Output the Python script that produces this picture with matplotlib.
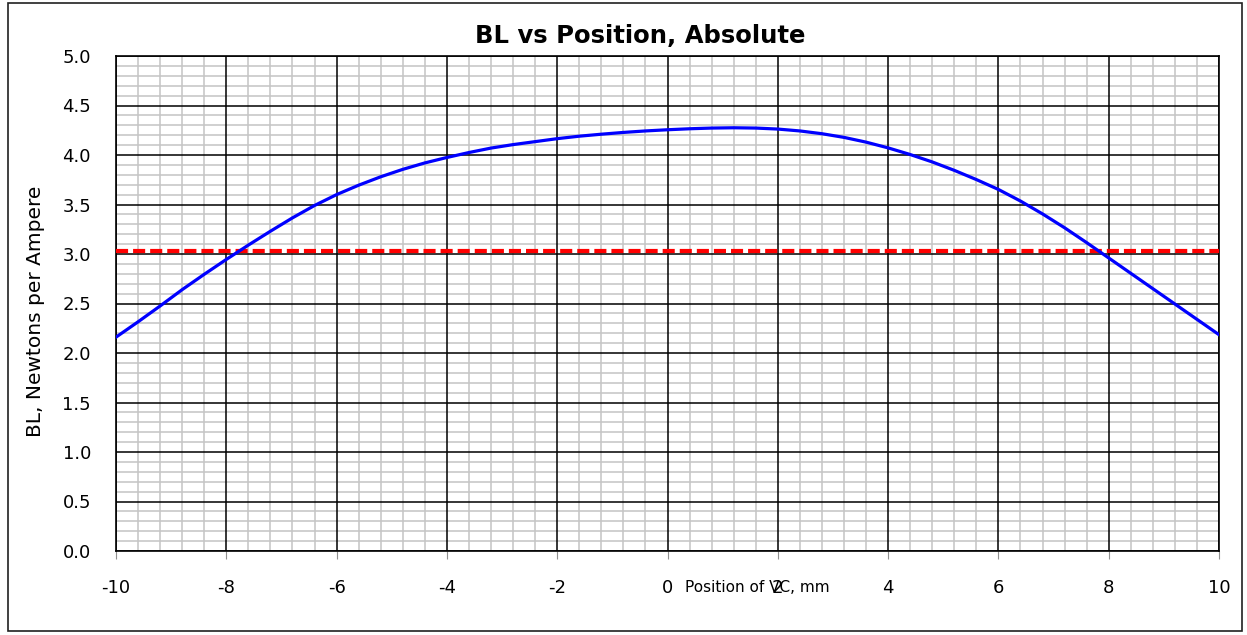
import matplotlib
matplotlib.use("Agg")
import matplotlib.pyplot as plt
from matplotlib.patches import Rectangle
from matplotlib.ticker import MultipleLocator, FormatStrFormatter

plt.rcParams['font.family'] = ['DejaVu Sans']
plt.rcParams['axes.unicode_minus'] = False

# Data
position_mm = [-10.0, -9.6, -9.2, -8.8, -8.4, -8.0, -7.6, -7.2, -6.8, -6.4,
               -6.0, -5.6, -5.2, -4.8, -4.4, -4.0, -3.6, -3.2, -2.8, -2.4,
               -2.0, -1.6, -1.2, -0.8, -0.4, 0.0, 0.4, 0.8, 1.2, 1.6,
               2.0, 2.4, 2.8, 3.2, 3.6, 4.0, 4.4, 4.8, 5.2, 5.6,
               6.0, 6.4, 6.8, 7.2, 7.6, 8.0, 8.4, 8.8, 9.2, 9.6, 10.0]
bl_values = [2.160, 2.315, 2.475, 2.640, 2.795, 2.945, 3.090, 3.230, 3.365, 3.490,
             3.600, 3.695, 3.780, 3.855, 3.920, 3.975, 4.025, 4.070, 4.105, 4.135,
             4.165, 4.190, 4.210, 4.228, 4.243, 4.255, 4.265, 4.272, 4.275, 4.272,
             4.262, 4.243, 4.215, 4.178, 4.130, 4.072, 4.005, 3.930, 3.845, 3.752,
             3.652, 3.535, 3.405, 3.265, 3.115, 2.960, 2.805, 2.650, 2.495, 2.340, 2.185]
threshold_x = [-10, 10]
threshold_y = [3.03, 3.03]
x_ticks = [-10, -8, -6, -4, -2, 0, 2, 4, 6, 8, 10]

W, H = 1247, 635
fig = plt.figure(figsize=(W / 100, H / 100), dpi=100)
fig.patch.set_facecolor('white')

# outer chart border
fig.add_artist(Rectangle((7.5 / W, 1 - 631 / H), (1242 - 7.5) / W, (631 - 3) / H,
                         transform=fig.transFigure, fill=False,
                         edgecolor='#202020', linewidth=1.2))

L, R, T, B = 116, 1219, 56, 551
ax = fig.add_axes([L / W, 1 - B / H, (R - L) / W, (B - T) / H])

ax.set_xlim(-10, 10)
ax.set_ylim(0, 5)
ax.set_xticks(x_ticks)
ax.xaxis.set_minor_locator(MultipleLocator(0.4))
ax.yaxis.set_major_locator(MultipleLocator(0.5))
ax.yaxis.set_minor_locator(MultipleLocator(0.1))
ax.yaxis.set_major_formatter(FormatStrFormatter('%.1f'))

# minor grid from the axis; major grid drawn above it
ax.grid(which='minor', color='#c4c4c4', linewidth=1.1)
ax.set_axisbelow(True)
for xv in ax.get_xticks():
    ax.axvline(xv, color='black', linewidth=1.1, zorder=1)
for yv in ax.get_yticks():
    ax.axhline(yv, color='black', linewidth=1.1, zorder=1)
ax.set_xlim(-10, 10)
ax.set_ylim(0, 5)

ax.tick_params(axis='x', which='major', length=6, width=0.8, color='#909090',
               direction='out', pad=14, labelsize=13)
ax.tick_params(axis='y', which='major', length=0, pad=18, labelsize=13)
ax.tick_params(which='minor', length=0)

for s in ax.spines.values():
    s.set_color('black')
    s.set_linewidth(1.2)

ax.plot(threshold_x, threshold_y, color='#ff0000', linewidth=3.0,
        dashes=(2.9, 1.2), zorder=3)
ax.plot(position_mm, bl_values, color='#0000ff', linewidth=2.3, zorder=4)

ax.text(0.475, 1.0263, 'BL vs Position, Absolute', transform=ax.transAxes,
        ha='center', va='baseline', fontsize=17.5, fontweight='bold')

ax.set_ylabel('BL, Newtons per Ampere', fontsize=14.5)
ax.yaxis.label.set_va('center')
ax.yaxis.set_label_coords(-0.0734, 0.4838)

ax.set_xlabel('Position of VC, mm', fontsize=11)
ax.xaxis.label.set_va('center')
ax.xaxis.set_label_coords(0.5816, -0.0747)

fig.savefig('out.png', dpi=100)
